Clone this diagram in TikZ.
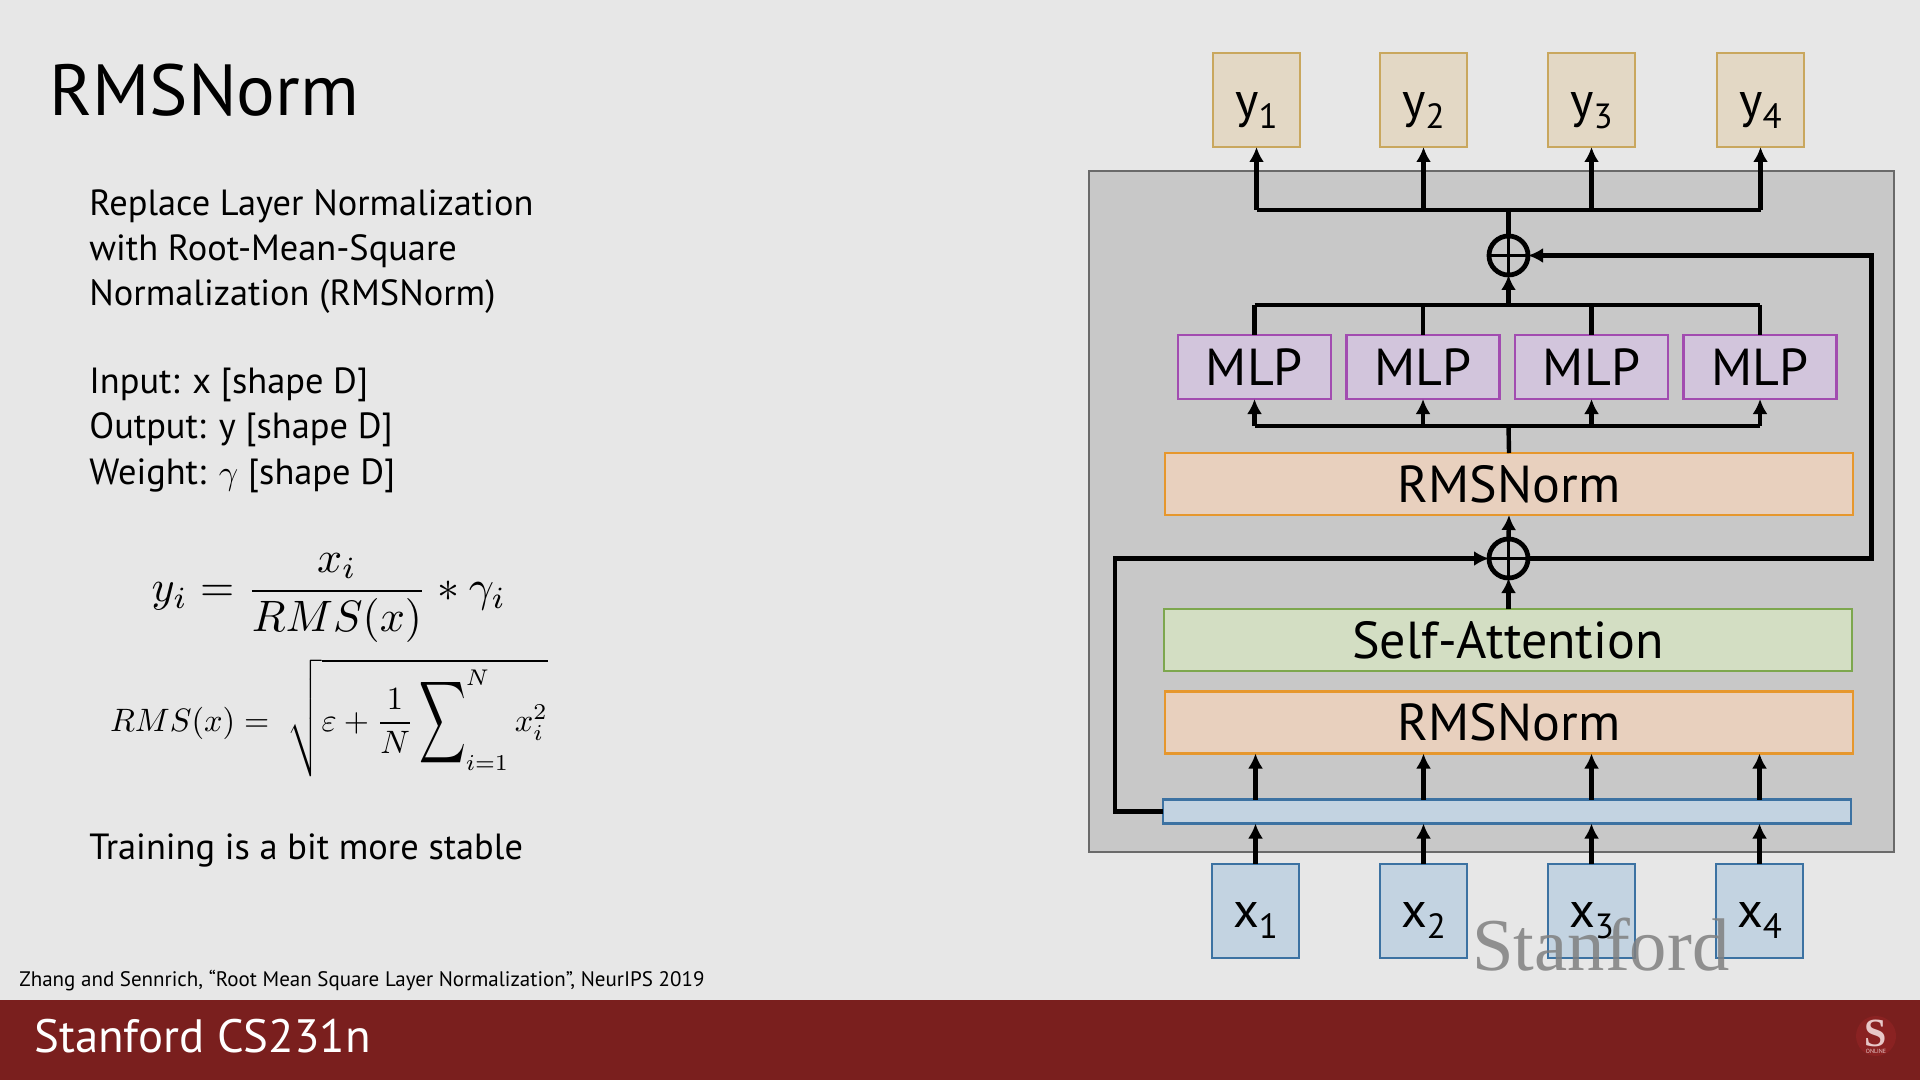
\documentclass[tikz,border=0pt]{standalone}
\usepackage{fontspec}
\setmainfont{PT Sans}
\newfontfamily\wmfont{Liberation Serif}
\usepackage{amsmath}
\definecolor{SlideBg}{HTML}{E7E7E7}
\definecolor{PanelGray}{HTML}{C8C8C8}
\definecolor{PanelEdge}{HTML}{6A6A6A}
\definecolor{FootRed}{HTML}{7A1F1E}
\definecolor{LogoRed}{HTML}{8A2222}
\definecolor{LogoPink}{HTML}{E8C8C8}
\definecolor{OutFill}{HTML}{E3D8C5}
\definecolor{OutEdge}{HTML}{C9A75E}
\definecolor{MlpFill}{HTML}{D2C5DC}
\definecolor{MlpEdge}{HTML}{A24CB0}
\definecolor{NormFill}{HTML}{E8D0BE}
\definecolor{NormEdge}{HTML}{E6972D}
\definecolor{AttnFill}{HTML}{D3DEC3}
\definecolor{AttnEdge}{HTML}{7DA74E}
\definecolor{InFill}{HTML}{C3D3E1}
\definecolor{InEdge}{HTML}{3C72A2}
\usetikzlibrary{arrows.meta,positioning,calc}
\newcommand{\lowsub}[1]{\raisebox{-5.5pt}{\fontsize{17.5}{17.5}\selectfont #1}}
\newcommand{\tallsum}{\mathop{\vcenter{\hbox{\scalebox{1}[1.77]{$\displaystyle\sum$}}}}}
\tikzset{
  bodytext/.style={anchor=base west, font=\fontsize{18.2}{22.6}\selectfont, align=left, inner sep=0pt},
  outbox/.style={draw=OutEdge, fill=OutFill, line width=1.3pt, outer sep=0pt, inner sep=0pt,
                 minimum width=43.5pt, minimum height=47pt, text height=22pt, text depth=4pt,
                 font=\fontsize{25}{25}\selectfont},
  inbox/.style={outbox, draw=InEdge, fill=InFill, text height=20pt},
  mlpbox/.style={draw=MlpEdge, fill=MlpFill, line width=1.3pt, outer sep=0pt, inner sep=0pt,
                 minimum width=76.5pt, minimum height=32pt, font=\fontsize{26}{26}\selectfont},
  normbox/.style={draw=NormEdge, fill=NormFill, line width=1.3pt, outer sep=0pt, inner sep=0pt,
                 minimum width=344pt, minimum height=31pt, font=\fontsize{26}{26}\selectfont},
  attnbox/.style={normbox, draw=AttnEdge, fill=AttnFill},
  barbox/.style={normbox, draw=InEdge, fill=InFill, minimum height=12pt},
  sumnode/.style={circle, draw=black, line width=2.4pt, minimum size=19.5pt, inner sep=0pt, outer sep=0pt,
                 path picture={\draw[line width=1.4pt]
                   (path picture bounding box.north) -- (path picture bounding box.south)
                   (path picture bounding box.west) -- (path picture bounding box.east);}},
  wire/.style={line width=2.2pt, black},
  wfarr/.style={-{Latex[length=7.5pt,width=7.5pt]}, wire}
}
\begin{document}
\begin{tikzpicture}[x=0.5pt, y=-0.5pt, node distance=7.75pt]
\useasboundingbox (0,0) rectangle (1920,1080);
\fill[SlideBg] (0,0) rectangle (1920,1080);
\fill[FootRed] (0,1000) rectangle (1920,1080);

% left column
\node[anchor=base west, inner sep=0pt, font=\fontsize{36.2}{36.2}\selectfont] (title) at (49,116) {RMSNorm};
\node[bodytext] (intro) at (89,306) {Replace Layer Normalization\\with Root-Mean-Square\\Normalization (RMSNorm)};
\node[bodytext] (shapes) at (89,484) {Input: x [shape D]\\Output: y [shape D]\\Weight: $\gamma$ [shape D]};
\node[scale=2.2, inner sep=0pt] (eqy) at (329,598) {$y_i = \dfrac{x_i}{RMS(x)} * \gamma_i$};
\node[scale=1.62, inner sep=0pt] (eqrms) at (329,718) {$RMS(x) = \;\sqrt{\varepsilon + \dfrac{1}{N}\tallsum\nolimits_{i=1}^{N} x_i^2}$};
\node[bodytext] (stable) at (89,859) {Training is a bit more stable};
\node[anchor=base west, inner sep=0pt, font=\fontsize{10.5}{10.5}\selectfont] (cite) at (19,986) {Zhang and Sennrich, “Root Mean Square Layer Normalization”, NeurIPS 2019};
\node[anchor=base west, inner sep=0pt, text=white, font=\fontsize{23.4}{23.4}\selectfont] (foot) at (34,1052) {Stanford CS231n};

% panel
\node[draw=PanelEdge, fill=PanelGray, line width=1pt, minimum width=402.5pt, minimum height=340.5pt,
      inner sep=0pt, outer sep=0pt] (panel) at (1491.5,511.5) {};

% outputs
\node[outbox] (y1) at (1256.5,100) {y\lowsub{1}};
\node[outbox, right=40pt of y1] (y2) {y\lowsub{2}};
\node[outbox, right=40.5pt of y2] (y3) {y\lowsub{3}};
\node[outbox, right=41pt of y3] (y4) {y\lowsub{4}};

% inputs
\node[inbox] (x1) at (1255.5,911) {x\lowsub{1}};
\node[inbox, right=40.5pt of x1] (x2) {x\lowsub{2}};
\node[inbox, right=40.5pt of x2] (x3) {x\lowsub{3}};
\node[inbox, right=40.5pt of x3] (x4) {x\lowsub{4}};

% mlps
\node[mlpbox] (mlpa) at (1254.5,367) {MLP};
\node[mlpbox, right=of mlpa] (mlpb) {MLP};
\node[mlpbox, right=of mlpb] (mlpc) {MLP};
\node[mlpbox, right=of mlpc] (mlpd) {MLP};

% middle stack
\node[normbox] (normb) at (1509,484) {RMSNorm};
\node[attnbox] (attn) at (1508,640) {Self-Attention};
\node[normbox] (norma) at (1509,722.5) {RMSNorm};
\node[barbox] (bar) at (1507,811.5) {};
\node[sumnode] (plusa) at (1508.5,255.5) {};
\node[sumnode] (plusb) at (1508.5,558.5) {};

\coordinate (topbus) at (1508.5,210);
\coordinate (midbus) at (1508.5,305);
\coordinate (lowbus) at (1508.5,426);
\coordinate (rightturn) at (1871.5,400);
\coordinate (leftturn) at (1115,700);

% top fan out
\draw[wire] (plusa.north) -- (topbus);
\draw[wire] (topbus -| y1) -- (topbus -| y4);
\draw[wfarr] (topbus -| y1) -- (y1.south);
\draw[wfarr] (topbus -| y2) -- (y2.south);
\draw[wfarr] (topbus -| y3) -- (y3.south);
\draw[wfarr] (topbus -| y4) -- (y4.south);

% mlp outputs
\draw[wire] (midbus -| mlpa) -- (midbus -| mlpd);
\draw[wire] (mlpa.north) -- (midbus -| mlpa);
\draw[wire] (mlpb.north) -- (midbus -| mlpb);
\draw[wire] (mlpc.north) -- (midbus -| mlpc);
\draw[wire] (mlpd.north) -- (midbus -| mlpd);
\draw[wfarr] (midbus) -- (plusa.south);

% mlp inputs
\draw[wire] (normb.north) -- (lowbus);
\draw[wire] (lowbus -| mlpa) -- (lowbus -| mlpd);
\draw[wfarr] (lowbus -| mlpa) -- (mlpa.south);
\draw[wfarr] (lowbus -| mlpb) -- (mlpb.south);
\draw[wfarr] (lowbus -| mlpc) -- (mlpc.south);
\draw[wfarr] (lowbus -| mlpd) -- (mlpd.south);

% stack
\draw[wfarr] (plusb.north) -- (normb.south);
\draw[wfarr] (attn.north -| plusb) -- (plusb.south);
\draw[wfarr] (bar.north -| x1) -- (norma.south -| x1);
\draw[wfarr] (bar.north -| x2) -- (norma.south -| x2);
\draw[wfarr] (bar.north -| x3) -- (norma.south -| x3);
\draw[wfarr] (bar.north -| x4) -- (norma.south -| x4);
\draw[wfarr] (x1.north) -- (bar.south -| x1);
\draw[wfarr] (x2.north) -- (bar.south -| x2);
\draw[wfarr] (x3.north) -- (bar.south -| x3);
\draw[wfarr] (x4.north) -- (bar.south -| x4);

% skip connections
\draw[wfarr] (bar.west) -| (leftturn) |- (plusb.west);
\draw[wfarr] (plusb.east) -| (rightturn) |- (plusa.east);

% overlay
\node[anchor=base west, inner sep=0pt, text=gray, opacity=0.85, font=\wmfont\fontsize{37.3}{37.3}\selectfont] (mark) at (1472,970) {Stanford};
\node[circle, fill=LogoRed, minimum size=20pt, inner sep=0pt] (logo) at (1876,1036) {};
\node[text=LogoPink, font=\wmfont\bfseries\fontsize{20}{20}\selectfont, inner sep=0pt] (logos) at (1876,1033) {S};
\node[text=LogoPink, font=\fontsize{3}{3}\selectfont, inner sep=0pt] (logot) at (1876,1051) {ONLINE};
\end{tikzpicture}
\end{document}
